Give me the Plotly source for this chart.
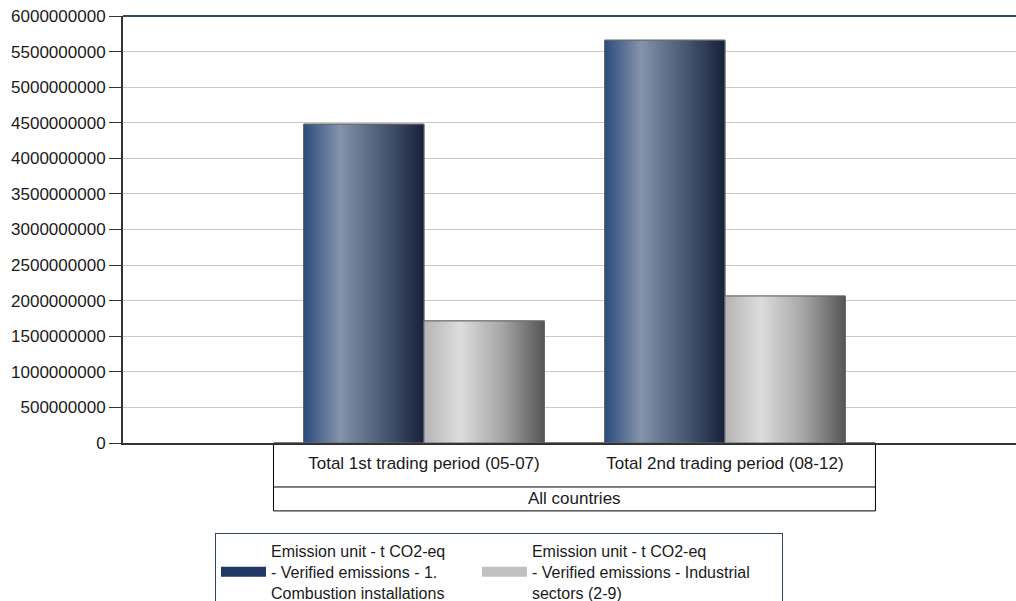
import plotly.graph_objects as go

# ---- data ----
periods = ["Total 1st trading period (05-07)", "Total 2nd trading period (08-12)"]
group_label = "All countries"
series_names = [
    "Emission unit - t CO2-eq<br>- Verified emissions - 1.<br>Combustion installations",
    "Emission unit - t CO2-eq<br>- Verified emissions - Industrial<br>sectors (2-9)",
]
combustion = [4.48e9, 5.66e9]
industrial = [1.715e9, 2.065e9]
y_ticks = [0, 5e8, 1e9, 1.5e9, 2e9, 2.5e9, 3e9, 3.5e9, 4e9, 4.5e9, 5e9, 5.5e9, 6e9]

series_values = [combustion, industrial]
legend_colors = ["#1f3864", "#c0c0c0"]
gradients = [
    [[0, "#2b4b7d"], [0.3, "#8593ab"], [0.65, "#4b5b76"], [1, "#16213a"]],
    [[0, "#b4b4b4"], [0.3, "#dddddd"], [0.65, "#a6a6a6"], [1, "#555555"]],
]

FONT = "Liberation Sans, Arial, sans-serif"
TXT = "#1a1a1a"
bar_w = 0.4
x_idx = list(range(len(periods)))
NBSP = "\u00a0"

fig = go.Figure()
for i, (name, vals) in enumerate(zip(series_names, series_values)):
    fig.add_trace(go.Bar(
        x=x_idx, y=vals, name=name, showlegend=False,
        marker=dict(color=legend_colors[i], line=dict(color="#6a6a6a", width=1)),
        width=bar_w, offset=-bar_w + i * bar_w,
    ))

# gradient overlays computed from the same data through the axes
for i, vals in enumerate(series_values):
    for c, v in zip(x_idx, vals):
        x0 = c - bar_w + i * bar_w
        x1 = x0 + bar_w
        fig.add_trace(go.Scatter(
            x=[x0, x0, x1, x1, x0], y=[0, v, v, 0, 0],
            mode="lines", fill="toself",
            fillgradient=dict(type="horizontal", colorscale=gradients[i]),
            line=dict(color="#6a6a6a", width=1),
            showlegend=False, hoverinfo="skip",
        ))

# legend entries (wide rectangular swatches); padded for spacing like the original box
legend_labels = [
    series_names[0].replace("<br>", NBSP * 6 + "<br>", 1),
    series_names[1].replace("Industrial", "Industrial" + NBSP * 6),
]
for i, name in enumerate(legend_labels):
    fig.add_trace(go.Scatter(
        x=[None], y=[None], name=name, mode="lines",
        line=dict(color=legend_colors[i], width=12),
    ))

shapes = [
    # category box
    dict(type="rect", xref="x", yref="paper", x0=-0.5, x1=1.5, y0=-0.159, y1=0,
         line=dict(color="#000000", width=1), layer="below"),
    dict(type="line", xref="x", yref="paper", x0=-0.5, x1=1.5, y0=-0.103, y1=-0.103,
         line=dict(color="#000000", width=1)),
    # top border of plot area
    dict(type="line", xref="paper", yref="paper", x0=0, x1=1, y0=1, y1=1,
         line=dict(color="#2e4a78", width=2)),
]

fig.update_layout(
    width=1016, height=601,
    margin=dict(l=123, r=0, t=16, b=158, autoexpand=False),
    paper_bgcolor="white", plot_bgcolor="white",
    font=dict(family=FONT, size=17, color=TXT),
    barmode="group",
    showlegend=True,
    legend=dict(
        orientation="h", x=0.103, xanchor="left", y=-0.211, yanchor="top",
        bordercolor="#2e466e", borderwidth=1, bgcolor="white",
        font=dict(family=FONT, size=16, color=TXT),
        itemwidth=45,
        traceorder="normal",
    ),
    xaxis=dict(
        range=[-1, 1.967], tickmode="array", tickvals=x_idx, ticktext=periods,
        showgrid=False, zeroline=False, showline=True, linecolor="#333333", linewidth=2,
        ticks="", ticklabelstandoff=4, fixedrange=True,
        tickfont=dict(family=FONT, size=17, color=TXT),
    ),
    yaxis=dict(
        range=[0, 6e9], tickmode="array", tickvals=y_ticks, tickformat="d",
        showgrid=True, gridcolor="#c8c8c8", gridwidth=1,
        zeroline=False, showline=True, linecolor="#333333", linewidth=2,
        ticks="outside", ticklen=12, tickcolor="#333333", tickwidth=1,
        tickfont=dict(family=FONT, size=17, color=TXT),
    ),
    shapes=shapes,
    annotations=[dict(text=group_label, xref="x", yref="paper", x=0.5, y=-0.131,
                      showarrow=False, font=dict(family=FONT, size=17, color=TXT),
                      yanchor="middle")],
)

fig.write_html("out.html")
